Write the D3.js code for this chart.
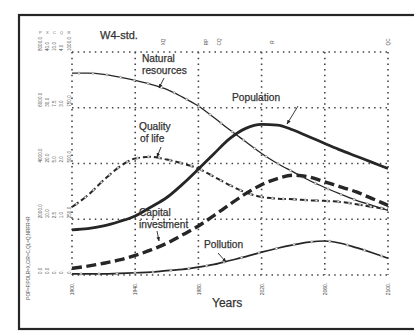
<!DOCTYPE html>
<html>
<head>
<meta charset="utf-8">
<script src="https://cdn.jsdelivr.net/npm/d3@7/dist/d3.min.js"></script>
<style>
  html, body { margin: 0; padding: 0; background: #fff; }
  svg { display: block; }
  text { font-family: "Liberation Sans", Arial, sans-serif; }
</style>
</head>
<body>
<svg id="chart" width="414" height="335"></svg>
<script>
// ---- data (values in grid units, 0..4 = bottom..top gridline) ----
const years = [1900,1910,1920,1930,1940,1950,1960,1970,1980,1990,2000,2010,2020,2030,2040,2050,2060,2070,2080,2090,2100];
const naturalResources = [3.62,3.62,3.60,3.55,3.49,3.42,3.33,3.19,3.03,2.82,2.60,2.39,2.18,2.00,1.85,1.70,1.57,1.45,1.34,1.25,1.16];
const population       = [0.81,0.83,0.88,0.96,1.06,1.22,1.39,1.63,1.90,2.18,2.45,2.63,2.70,2.69,2.60,2.48,2.36,2.24,2.13,2.02,1.91];
const qualityOfLife    = [1.22,1.43,1.70,1.94,2.09,2.12,2.07,2.00,1.91,1.76,1.61,1.48,1.40,1.37,1.36,1.34,1.33,1.31,1.27,1.22,1.18];
const capitalInvestment= [0.12,0.16,0.21,0.27,0.35,0.45,0.57,0.72,0.88,1.07,1.27,1.46,1.62,1.73,1.79,1.76,1.67,1.58,1.49,1.37,1.25];
const pollution        = [0.02,0.02,0.02,0.03,0.04,0.05,0.08,0.10,0.14,0.19,0.26,0.33,0.41,0.48,0.54,0.59,0.61,0.57,0.49,0.40,0.30];
const tickYears = [1900,1940,1980,2020,2060,2100];
const gridLevels = [0,1,2,3,4];
const scaleBlocks = [
  ["0.0","0.0","0.","0.","0."],
  ["2000.0","10.0","2.5","1.0","250.0"],
  ["4000.0","20.0","5.0","2.0","500.0"],
  ["6000.0","30.0","7.5","3.0","750.0"],
  ["8000.0","40.0","10.0","4.0","1000.0"]
];
const topCodes = ["P X C Q R"];
const topMarks = [{year:1958,t:"XQ"},{year:1985,t:"RP"},{year:1993,t:"CQ"},{year:2027,t:"R"},{year:2100,t:"QC"}];
const sideLabel = "POP=P,POLR=X,CIR=C,QL=Q,NRFR=R";

const svg = d3.select("#chart");
const ink = "#262626";

// frame
svg.append("rect").attr("x",19).attr("y",15).attr("width",410).attr("height",314)
  .attr("fill","#fff").attr("stroke",ink).attr("stroke-width",2.2);

const x = d3.scaleLinear().domain([1900,2100]).range([72,388]);
const y = d3.scaleLinear().domain([0,4]).range([275,52]);

// dotted grid
const grid = svg.append("g").attr("stroke","#444").attr("stroke-width",1.6).attr("stroke-dasharray","1.5,4.2");
grid.selectAll("line.v").data(tickYears).join("line")
  .attr("x1",d=>x(d)).attr("x2",d=>x(d)).attr("y1",y(4)).attr("y2",y(0));
grid.selectAll("line.h").data(gridLevels).join("line")
  .attr("x1",x(1900)).attr("x2",x(2100)).attr("y1",d=>y(d)).attr("y2",d=>y(d));

// x tick labels (rotated)
const xAxis = svg.append("g").attr("transform",`translate(0,${y(0)})`)
  .call(d3.axisBottom(x).tickValues(tickYears).tickSize(0).tickFormat(d=>d+"."));
xAxis.select(".domain").remove();
xAxis.selectAll("text").attr("transform","translate(0,14) rotate(-90)").attr("dy","0.32em")
  .attr("x",0).attr("y",0).style("text-anchor","middle").attr("font-size",5).attr("fill","#444");

// left scale blocks
gridLevels.forEach((lvl,i)=>{
  const g = svg.append("g");
  scaleBlocks[i].forEach((s,j)=>{
    const cx = 40 + j*7 + (j===4?1:0);
    g.append("text").attr("transform",`translate(${cx},${y(lvl)-1}) rotate(-90)`)
      .attr("font-size",4.6).attr("fill","#555").attr("dy","0.35em").text(s);
  });
});
svg.append("text").attr("x",39).attr("y",34).attr("font-size",4).attr("fill","#666")
  .attr("letter-spacing",1.6).text(topCodes[0]);

// side label
svg.append("text").attr("transform",`translate(28,258) rotate(-90)`).attr("text-anchor","middle")
  .attr("font-size",4.6).attr("fill","#555").attr("dy","0.35em").text(sideLabel);

// top marks
svg.selectAll("text.tm").data(topMarks).join("text")
  .attr("transform",d=>`translate(${x(d.year)},42) rotate(-90)`).attr("text-anchor","middle")
  .attr("font-size",4.6).attr("fill","#555").attr("dy","0.35em").text(d=>d.t);

// curves
const line = d3.line().x((d,i)=>x(years[i])).y(d=>y(d)).curve(d3.curveMonotoneX);
function drawSeries(vals, opts){
  const p = svg.append("path").datum(vals).attr("d",line).attr("fill","none")
    .attr("stroke",ink).attr("stroke-width",opts.w).attr("stroke-linecap","butt");
  if(opts.dash) p.attr("stroke-dasharray",opts.dash);
  if(opts.marks){
    const node = p.node(), L = node.getTotalLength();
    const pts = d3.range(opts.marks/2, L, opts.marks).map(l=>node.getPointAtLength(l));
    svg.append("g").selectAll("circle").data(pts).join("circle")
      .attr("cx",d=>d.x).attr("cy",d=>d.y).attr("r",1.1)
      .attr("fill","#fff").attr("stroke","#888").attr("stroke-width",0.7);
  }
  return p;
}
drawSeries(naturalResources,{w:1.3, marks:14});
drawSeries(pollution,{w:1.7, marks:18});
drawSeries(qualityOfLife,{w:2, dash:"8,3", marks:11});
drawSeries(capitalInvestment,{w:3.4, dash:"10,4.5"});
drawSeries(population,{w:2.8});

// labels
const lab = svg.append("g").attr("fill","#333").attr("stroke","#333").attr("stroke-width",0.25).attr("font-size",10.2);
lab.append("text").attr("x",100).attr("y",39).attr("font-size",11).text("W4-std.");
lab.append("text").attr("x",142).attr("y",62).text("Natural");
lab.append("text").attr("x",142).attr("y",74).text("resources");
lab.append("text").attr("x",232).attr("y",101).text("Population");
lab.append("text").attr("x",139).attr("y",130).text("Quality");
lab.append("text").attr("x",140).attr("y",142).text("of life");
lab.append("text").attr("x",139).attr("y",216).text("Capital");
lab.append("text").attr("x",139).attr("y",228).text("investment");
lab.append("text").attr("x",204).attr("y",248).text("Pollution");
lab.append("text").attr("x",212).attr("y",307).attr("font-size",12).text("Years");

// arrows
const arrows = [
  {x1:164,y1:78,x2:159,y2:88},
  {x1:298,y1:106,x2:287,y2:124},
  {x1:161,y1:147,x2:157,y2:157},
  {x1:157,y1:231,x2:159,y2:241},
  {x1:218,y1:253,x2:226,y2:262}
];
svg.append("defs").append("marker").attr("id","ah").attr("viewBox","0 0 10 10")
  .attr("refX",9).attr("refY",5).attr("markerWidth",5).attr("markerHeight",5).attr("orient","auto")
  .append("path").attr("d","M0,1L10,5L0,9z").attr("fill",ink);
svg.append("g").selectAll("line").data(arrows).join("line")
  .attr("x1",d=>d.x1).attr("y1",d=>d.y1).attr("x2",d=>d.x2).attr("y2",d=>d.y2)
  .attr("stroke",ink).attr("stroke-width",0.9).attr("marker-end","url(#ah)");
</script>
</body>
</html>
